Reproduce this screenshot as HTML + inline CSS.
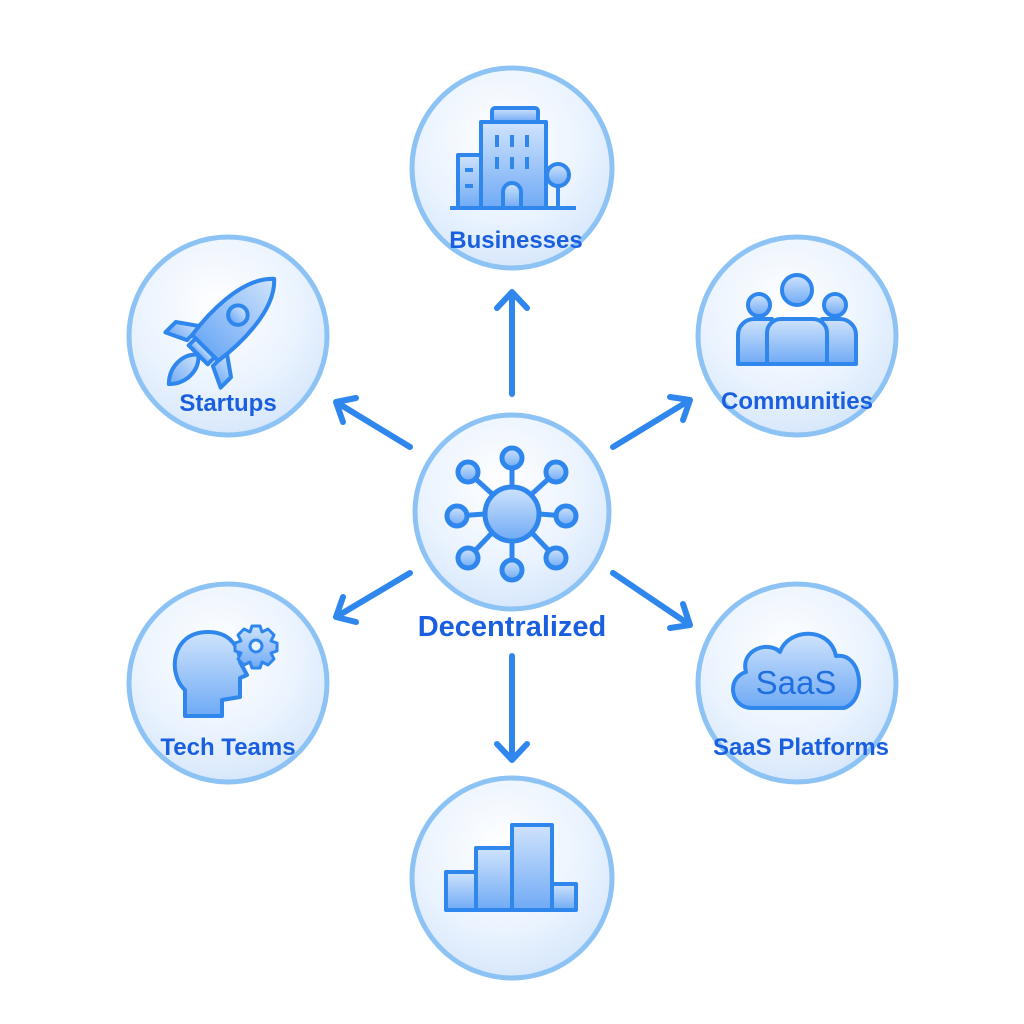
<!DOCTYPE html>
<html><head><meta charset="utf-8"><style>
html,body{margin:0;padding:0;background:#fff;}
svg{display:block}
text{font-family:"Liberation Sans",sans-serif;font-weight:bold;fill:#1a5fe0;text-anchor:middle}
</style></head><body>
<svg width="1024" height="1024" viewBox="0 0 1024 1024" xmlns="http://www.w3.org/2000/svg">
<defs>
<radialGradient id="cg" cx="0.45" cy="0.35" r="0.7">
<stop offset="0" stop-color="#ffffff"/><stop offset="0.6" stop-color="#eaf3fe"/><stop offset="1" stop-color="#d3e5fb"/>
</radialGradient>
<linearGradient id="ig" x1="0" y1="0" x2="0" y2="1">
<stop offset="0" stop-color="#cfe3fc"/><stop offset="1" stop-color="#6faaf5"/>
</linearGradient>
</defs>
<g fill="url(#cg)" stroke="#8cc3f4" stroke-width="5">
<circle cx="512" cy="168" r="100"/>
<circle cx="228" cy="336" r="99"/>
<circle cx="797" cy="336" r="99"/>
<circle cx="512" cy="512" r="97"/>
<circle cx="228" cy="683" r="99"/>
<circle cx="797" cy="683" r="99"/>
<circle cx="512" cy="878" r="100"/>
</g>
<g stroke="#2f87ee" stroke-width="6" stroke-linecap="round" stroke-linejoin="round" fill="none">
<path d="M512 394 L512 292 M497 308 L512 292 L527 308"/>
<path d="M512 656 L512 760 M497 744 L512 760 L527 744"/>
<path d="M410 447 L336 402 M343 422 L336 402 L356 398"/>
<path d="M613 447 L690 400 M670 397 L690 400 L683 420"/>
<path d="M410 573 L336 617 M356 622 L336 617 L343 597"/>
<path d="M613 573 L690 625 M683 604 L690 625 L670 628"/>
</g>
<g stroke="#2f87ee" stroke-width="4" fill="url(#ig)" stroke-linejoin="round">
<rect x="492" y="108" width="46" height="14" rx="3"/>
<rect x="458" y="155" width="24" height="53"/>
<rect x="481" y="122" width="65" height="86"/>
<circle cx="558" cy="175" r="11"/>
<path d="M558 186 V208" fill="none"/>
<path d="M503 208 V192 a9 9 0 0 1 18 0 V208"/>
<path d="M450 208 H576" fill="none"/>
<path d="M497 135v12M512 135v12M527 135v12M497 157v12M512 157v12M527 157v12M465 170h8M465 186h8" fill="none" stroke-width="4"/>
<g stroke-width="5">
<path d="M512 512 L512 457 M512 512 L512 570 M512 512 L457 516 M512 512 L566 516 M512 512 L468 472 M512 512 L556 472 M512 512 L468 558 M512 512 L556 558" fill="none"/>
<circle cx="512" cy="458" r="10"/><circle cx="512" cy="570" r="10"/>
<circle cx="457" cy="516" r="10"/><circle cx="566" cy="516" r="10"/>
<circle cx="468" cy="472" r="10"/><circle cx="556" cy="472" r="10"/>
<circle cx="468" cy="558" r="10"/><circle cx="556" cy="558" r="10"/>
<circle cx="512" cy="514" r="27"/>
</g>
<g transform="translate(231 322) scale(1.22) translate(-228 -320) rotate(45 228 320)">
<path d="M213 340 L196 352 L196 364 L213 356 Z" stroke-width="3.3"/>
<path d="M243 340 L260 352 L260 364 L243 356 Z" stroke-width="3.3"/>
<path d="M228 270 C248 288 246 330 243 350 H213 C210 330 208 288 228 270 Z" stroke-width="3.3"/>
<circle cx="228" cy="312" r="8" stroke-width="3.3"/>
<rect x="217" y="350" width="22" height="8" stroke-width="3.3"/>
<path d="M228 358 C238 366 238 382 228 392 C218 382 218 366 228 358 Z" stroke-width="3.3"/>
</g>
<circle cx="759" cy="305" r="11"/>
<circle cx="835" cy="305" r="11"/>
<circle cx="797" cy="290" r="15"/>
<path d="M738 364 V335 a16 16 0 0 1 16 -16 H772 V364 Z"/>
<path d="M856 364 V335 a16 16 0 0 0 -16 -16 H822 V364 Z"/>
<path d="M767 364 V333 a14 14 0 0 1 14 -14 H813 a14 14 0 0 1 14 14 V364 Z"/>
<path d="M185 716 V690 C168 675 170 632 208 632 C232 632 240 650 240 662 L247 675 L240 678 L240 697 L222 700 V716 Z"/>
<g transform="translate(256 646)">
<path d="M-4 -20 h8 l2 6 l6 -3 l6 6 l-3 6 l6 2 v8 l-6 2 l3 6 l-6 6 l-6 -3 l-2 6 h-8 l-2 -6 l-6 3 l-6 -6 l3 -6 l-6 -2 v-8 l6 -2 l-3 -6 l6 -6 l6 3 Z" stroke-width="3"/>
<circle r="6" fill="#eaf3fe" stroke-width="3"/>
</g>
<path d="M752 708 C730 708 726 678 746 672 C740 650 768 640 780 652 C788 628 830 626 836 656 C862 652 868 700 844 708 Z"/>
<rect x="446" y="872" width="30" height="38"/>
<rect x="476" y="848" width="36" height="62"/>
<rect x="512" y="825" width="40" height="85"/>
<rect x="552" y="884" width="24" height="26"/>
</g>
<text x="796" y="694" style="font-weight:normal;fill:#1f6fe0" font-size="33">SaaS</text>
<text x="516" y="248" font-size="24">Businesses</text>
<text x="228" y="411" font-size="24">Startups</text>
<text x="797" y="409" font-size="24">Communities</text>
<text x="512" y="636" font-size="29">Decentralized</text>
<text x="228" y="755" font-size="24">Tech Teams</text>
<text x="801" y="755" font-size="24">SaaS Platforms</text>
</svg>
</body></html>
